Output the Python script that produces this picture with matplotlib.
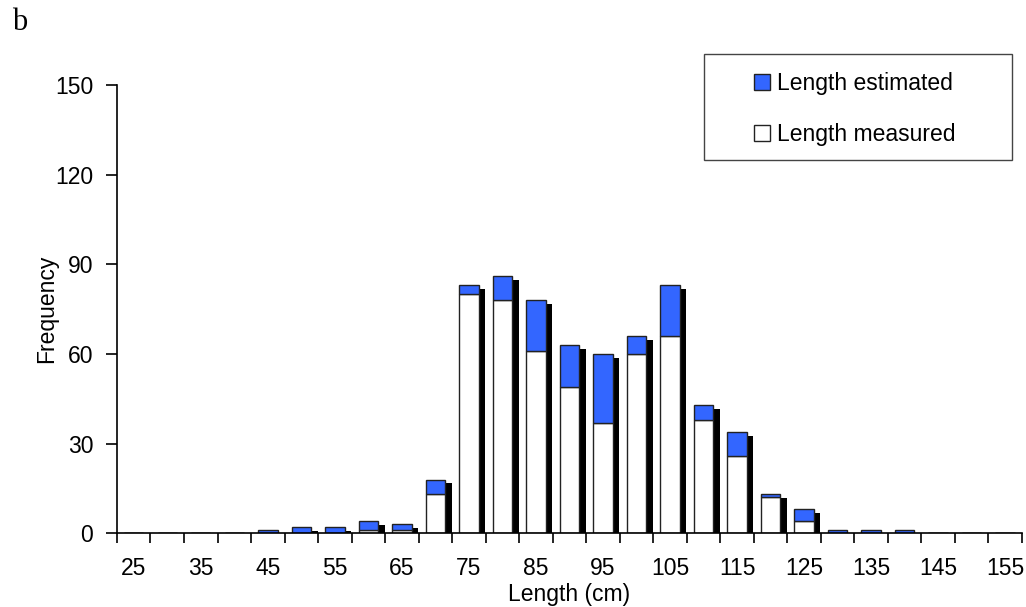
import numpy as np
import matplotlib
matplotlib.use("Agg")
import matplotlib.pyplot as plt
from matplotlib.patches import Patch, Rectangle

# Length classes (cm) and counts
lengths = list(range(25, 160, 5))
measured = [0, 0, 0, 0, 0, 0, 0, 1, 1, 13, 80, 78, 61, 49, 37, 60, 66, 38, 26, 12, 4, 0, 0, 0, 0, 0, 0]
estimated = [0, 0, 0, 0, 1, 2, 2, 3, 2, 5, 3, 8, 17, 14, 23, 6, 17, 5, 8, 1, 4, 1, 1, 1, 0, 0, 0]

blue = "#3366FF"
fs = 16.5
plt.rcParams["font.family"] = ["Liberation Sans", "DejaVu Sans"]

fig = plt.figure(figsize=(10.26, 6.07), dpi=100)
ax = fig.add_axes([0.114, 0.1214, 0.882, 0.7386])

x = np.arange(len(lengths))
measured = np.array(measured)
estimated = np.array(estimated)
total = measured + estimated
w = 0.58

# drop shadow behind each stacked bar
ax.bar(x + 0.2, np.clip(total - 1.3, 0, None), width=w, color="black", zorder=1)
ax.bar(x, measured, width=w, color="white", edgecolor="#222222", linewidth=1.0, zorder=2)
ax.bar(x, estimated, bottom=measured, width=w, color=blue, edgecolor="#222222", linewidth=1.0, zorder=2)

ax.set_xlim(-0.5, len(lengths) - 0.5)
ax.set_ylim(0, 150)
ax.set_yticks(range(0, 151, 30))

# tick marks at class boundaries, labels at every other class centre
ax.set_xticks(np.arange(-0.5, len(lengths), 1.0))
ax.set_xticklabels([])
ax.set_xticks(x[::2], minor=True)
ax.set_xticklabels([str(v) for v in lengths[::2]], minor=True)
ax.tick_params(axis="x", which="major", direction="out", length=7, width=1.2)
ax.tick_params(axis="x", which="minor", length=0, pad=17, labelsize=fs)
ax.tick_params(axis="y", direction="out", length=8, width=1.2, pad=9, labelsize=fs)

for s in ["top", "right"]:
    ax.spines[s].set_visible(False)
for s in ["left", "bottom"]:
    ax.spines[s].set_linewidth(1.2)

ax.set_xlabel("Length (cm)", fontsize=fs, labelpad=2)
ax.set_ylabel("Frequency", fontsize=fs, labelpad=-2)

# legend with its own frame
fig.patches.append(Rectangle((704 / 1026, 1 - 160 / 607), 308 / 1026, 106 / 607,
                             transform=fig.transFigure, facecolor="white",
                             edgecolor="#444444", linewidth=1.0))
handles = [Patch(facecolor=blue, edgecolor="#222222", label="Length estimated"),
           Patch(facecolor="white", edgecolor="#222222", label="Length measured")]
fig.legend(handles=handles, loc="upper left", bbox_to_anchor=(754 / 1026, 1 - 72 / 607),
           frameon=False, fontsize=fs, handlelength=0.7, handleheight=0.7,
           handletextpad=0.3, labelspacing=1.22, borderpad=0, borderaxespad=0)

fig.text(12 / 1026, 1 - 8 / 607, "b", family=["Liberation Serif", "DejaVu Serif"],
         fontsize=22, ha="left", va="top")

fig.savefig("out.png", dpi=100)
